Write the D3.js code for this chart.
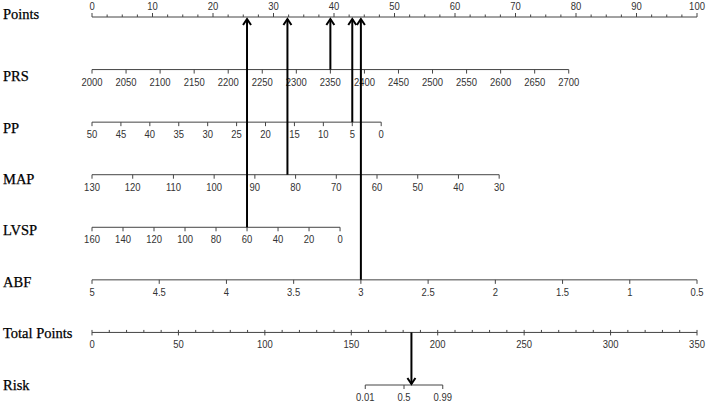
<!DOCTYPE html>
<html>
<head>
<meta charset="utf-8">
<script src="https://cdn.jsdelivr.net/npm/d3@7"></script>
<style>
  body { margin: 0; background: #fff; }
  .rowlab { font-family: "Liberation Serif", "Times New Roman", serif; font-size: 14.5px; fill: #000; stroke: #000; stroke-width: 0.25px; }
  .ticklab { font-family: "Liberation Sans", Arial, sans-serif; font-size: 11px; fill: #333; }
</style>
</head>
<body>
<div id="chart"></div>
<script>
// nomogram data
const rowLabels = ["Points", "PRS", "PP", "MAP", "LVSP", "ABF", "Total Points", "Risk"];

const pointsTicks = [0, 10, 20, 30, 40, 50, 60, 70, 80, 90, 100];

const varNames = ["PRS", "PP", "MAP", "LVSP", "ABF"];
const varDomains = [[2000, 2700], [50, 0], [130, 30], [160, 0], [5, 0.5]];
const varMaxPoints = [78.8, 47.8, 67.3, 41.0, 100];
const varTicks = [
  [2000, 2050, 2100, 2150, 2200, 2250, 2300, 2350, 2400, 2450, 2500, 2550, 2600, 2650, 2700],
  [50, 45, 40, 35, 30, 25, 20, 15, 10, 5, 0],
  [130, 120, 110, 100, 90, 80, 70, 60, 50, 40, 30],
  [160, 140, 120, 100, 80, 60, 40, 20, 0],
  [5, 4.5, 4, 3.5, 3, 2.5, 2, 1.5, 1, 0.5]
];
// the patient drawn with arrows
const patient = [2350, 5, 82, 60, 3];

const totalTicks = [0, 50, 100, 150, 200, 250, 300, 350];
const riskTicks = [0.01, 0.5, 0.99];
const riskCenter = 180.5;   // total points where risk = 0.5
const riskSlope = 0.205;    // logit per total point

const width = 709, height = 404;
const lineCol = "#444";

const svg = d3.select("#chart").append("svg")
  .attr("width", width)
  .attr("height", height);

const rowY = d3.scalePoint(rowLabels, [17, 385]);
const xPts = d3.scaleLinear([0, 100], [92, 697]);
const xTot = d3.scaleLinear([0, 350], [92, 697]);

function tickText(g, x, y, t) {
  g.append("text")
    .attr("class", "ticklab")
    .attr("transform", `translate(${x},${y}) scale(0.86,1)`)
    .attr("text-anchor", "middle")
    .text(t);
}

// row labels
svg.selectAll(".rowlab")
  .data(rowLabels)
  .join("text")
  .attr("class", "rowlab")
  .attr("x", 3)
  .attr("y", (d, i) => i == 0 ? rowY(d) + 1.5 : rowY(d) + 13 - i * 1.2)
  .text(d => d);

// Points axis
let g = svg.append("g");
let y = rowY("Points");
g.append("line").attr("x1", xPts(0)).attr("x2", xPts(100)).attr("y1", y).attr("y2", y)
  .attr("stroke", lineCol);
d3.range(0, 100.01, 2.5).forEach(v => {
  const major = v % 10 == 0;
  g.append("line").attr("x1", xPts(v)).attr("x2", xPts(v))
    .attr("y1", y).attr("y2", y - (major ? 4 : 2.5)).attr("stroke", lineCol);
});
pointsTicks.forEach(v => tickText(g, xPts(v), y - 7, v));

// variable axes
varNames.forEach((name, i) => {
  const s = d3.scaleLinear(varDomains[i], [0, varMaxPoints[i]]);
  const yy = rowY(name);
  const ga = svg.append("g");
  ga.append("line")
    .attr("x1", xPts(s(varDomains[i][0]))).attr("x2", xPts(s(varDomains[i][1])))
    .attr("y1", yy).attr("y2", yy).attr("stroke", lineCol);
  varTicks[i].forEach(v => {
    ga.append("line").attr("x1", xPts(s(v))).attr("x2", xPts(s(v)))
      .attr("y1", yy).attr("y2", yy + 4).attr("stroke", lineCol);
    tickText(ga, xPts(s(v)), yy + 16, v);
  });
});

// Total Points axis
y = rowY("Total Points");
g = svg.append("g");
g.append("line").attr("x1", xTot(0)).attr("x2", xTot(350)).attr("y1", y).attr("y2", y)
  .attr("stroke", lineCol);
d3.range(0, 350.01, 10).forEach(v => {
  g.append("line").attr("x1", xTot(v)).attr("x2", xTot(v))
    .attr("y1", y - 2.5).attr("y2", v % 50 == 0 ? y + 3 : y).attr("stroke", lineCol);
});
totalTicks.forEach(v => tickText(g, xTot(v), y + 16, v));

// Risk axis
const riskToTotal = p => riskCenter + Math.log(p / (1 - p)) / riskSlope;
y = rowY("Risk");
g = svg.append("g");
g.append("line")
  .attr("x1", xTot(riskToTotal(riskTicks[0]))).attr("x2", xTot(riskToTotal(riskTicks[2])))
  .attr("y1", y).attr("y2", y).attr("stroke", lineCol);
riskTicks.forEach(p => {
  g.append("line").attr("x1", xTot(riskToTotal(p))).attr("x2", xTot(riskToTotal(p)))
    .attr("y1", y).attr("y2", y + 4).attr("stroke", lineCol);
  tickText(g, xTot(riskToTotal(p)), y + 16, p);
});

// arrows
function arrow(x, y0, y1) {
  const dir = y1 < y0 ? 1 : -1;
  svg.append("line").attr("x1", x).attr("x2", x).attr("y1", y0).attr("y2", y1)
    .attr("stroke", "#000").attr("stroke-width", 2);
  svg.append("path")
    .attr("d", `M${x - 4},${y1 + dir * 6}L${x},${y1}L${x + 4},${y1 + dir * 6}`)
    .attr("fill", "none").attr("stroke", "#000").attr("stroke-width", 2);
}

let total = 0;
varNames.forEach((name, i) => {
  const s = d3.scaleLinear(varDomains[i], [0, varMaxPoints[i]]);
  const pts = s(patient[i]);
  total += pts;
  arrow(xPts(pts), rowY(name), rowY("Points") + 2);
});
arrow(xTot(total), rowY("Total Points"), rowY("Risk") - 1);
</script>
</body>
</html>
